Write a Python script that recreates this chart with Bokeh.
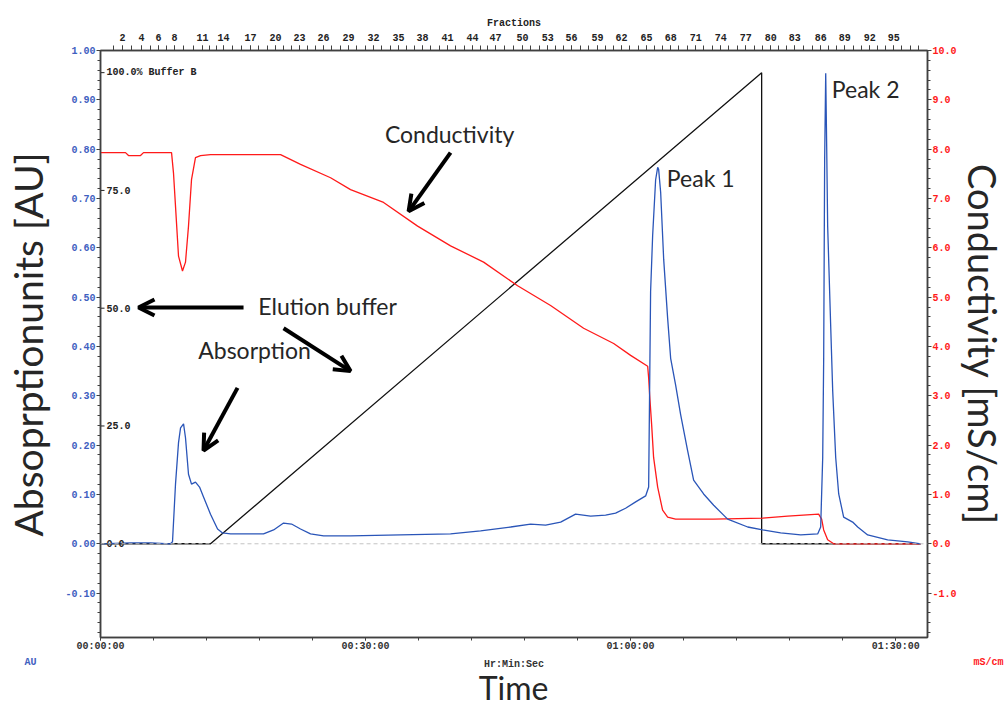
import numpy as np
from bokeh.plotting import figure
from bokeh.models import (LinearAxis, Range1d, FixedTicker, NumeralTickFormatter,
                          Label, Arrow, OpenHead, Span)
from bokeh.core.properties import value
from bokeh.embed import file_html
from bokeh.resources import INLINE

# ---- chromatogram traces (time in minutes) ----
abs_time = [0.0, 3.40, 5.66, 7.92, 8.15, 8.49, 8.83, 9.06, 9.40, 9.62, 9.96, 10.30,
            10.75, 11.21, 11.66, 12.45, 13.25, 13.81, 14.72, 16.98, 18.45, 19.59,
            20.72, 21.62, 22.64, 23.77, 25.25, 28.30, 33.96, 39.62, 43.02, 46.42,
            48.68, 50.38, 52.08, 53.77, 55.47, 57.17, 58.30, 59.43, 60.57, 61.70,
            62.04, 62.26, 62.49, 62.83, 63.06, 63.17, 63.40, 63.74, 64.19, 64.53,
            65.09, 65.66, 66.45, 67.13, 68.26, 69.40, 70.98, 73.25, 74.94, 76.98,
            79.25, 81.17, 81.51, 81.74, 81.85, 81.96, 82.08, 82.19, 82.30, 82.64,
            82.87, 83.21, 83.55, 84.11, 85.13, 85.70, 86.83, 89.09, 91.36, 92.83]
abs_au = [0.000, 0.002, 0.002, 0.000, 0.004, 0.121, 0.205, 0.235, 0.243, 0.215, 0.141,
          0.121, 0.125, 0.115, 0.095, 0.060, 0.030, 0.022, 0.020, 0.020, 0.020, 0.028,
          0.042, 0.040, 0.030, 0.020, 0.016, 0.016, 0.018, 0.020, 0.026, 0.034,
          0.040, 0.038, 0.044, 0.060, 0.056, 0.058, 0.062, 0.072, 0.085, 0.097,
          0.115, 0.511, 0.624, 0.738, 0.763, 0.759, 0.712, 0.577, 0.457, 0.376,
          0.322, 0.262, 0.189, 0.129, 0.101, 0.078, 0.050, 0.034, 0.028, 0.022,
          0.018, 0.020, 0.034, 0.175, 0.376, 0.779, 0.954, 0.805, 0.644, 0.443,
          0.310, 0.175, 0.101, 0.054, 0.044, 0.034, 0.018, 0.008, 0.004, 0.000]

cond_time = [0.0, 2.83, 3.17, 4.53, 4.87, 8.04, 8.26, 8.49, 8.83, 9.28, 9.62, 9.96,
             10.30, 10.75, 11.32, 12.45, 20.38, 22.64, 26.04, 28.30, 32.04, 35.89,
             39.62, 43.36, 47.21, 50.94, 54.68, 58.08, 60.00, 61.93, 62.04, 62.15,
             62.38, 62.60, 63.06, 63.62, 64.19, 65.09, 69.40, 74.94, 77.77, 81.28,
             81.62, 81.85, 82.30, 82.98, 92.83]
cond_mscm = [7.93, 7.93, 7.87, 7.87, 7.93, 7.93, 7.52, 6.84, 5.83, 5.53, 5.71, 6.44,
             7.38, 7.83, 7.87, 7.89, 7.89, 7.69, 7.42, 7.18, 6.92, 6.44,
             6.04, 5.71, 5.23, 4.83, 4.37, 4.06, 3.82, 3.60, 3.36, 3.02,
             2.41, 1.75, 1.15, 0.68, 0.54, 0.50, 0.50, 0.52, 0.56, 0.60,
             0.50, 0.28, 0.08, 0.00, 0.00]

grad_time = [0.0, 12.45, 74.83, 74.83, 92.83]
grad_pct_b = [0.0, 0.0, 100.0, 0.0, 0.0]

# ---- axis ticks ----
au_ticks = [-0.1, 0.0, 0.1, 0.2, 0.3, 0.4, 0.5, 0.6, 0.7, 0.8, 0.9, 1.0]
cond_ticks = [-1.0, 0.0, 1.0, 2.0, 3.0, 4.0, 5.0, 6.0, 7.0, 8.0, 9.0, 10.0]
time_ticks = [0, 30, 60, 90]
time_tick_labels = ["00:00:00", "00:30:00", "01:00:00", "01:30:00"]
frac_numbers = [2, 4, 6, 8, 11, 14, 17, 20, 23, 26, 29, 32, 35, 38, 41, 44, 47, 50,
                53, 56, 59, 62, 65, 68, 71, 74, 77, 80, 83, 86, 89, 92, 95]
frac_time = [2.49, 4.64, 6.57, 8.38, 11.55, 13.92, 16.98, 19.81, 22.53, 25.25, 28.08,
             30.91, 33.74, 36.45, 39.28, 42.11, 44.72, 47.77, 50.61, 53.32, 56.26,
             58.98, 61.81, 64.53, 67.36, 70.19, 73.02, 75.85, 78.57, 81.51, 84.23,
             87.06, 89.77]
buffer_marks = [0, 25, 50, 75, 100]
buffer_mark_labels = ["0.0", "25.0", "50.0", "75.0", "100.0% Buffer B"]

AU_BLUE = "#3f5fbf"
COND_RED = "#ff1a1a"
DARK = "#404040"
TEXT = "#262626"
MONO = "Liberation Mono"
SANS = "Lato"

p = figure(width=1008, height=711, x_range=Range1d(0, 93.6), y_range=Range1d(-0.19, 1.0),
           x_axis_location=None, y_axis_location=None,
           output_backend="svg", toolbar_location=None,
           min_border_left=100, min_border_right=81, min_border_top=50, min_border_bottom=69)
p.grid.visible = False
p.outline_line_color = DARK
p.outline_line_width = 1.5
p.background_fill_color = "white"
p.border_fill_color = "white"

p.extra_y_ranges = {"cond": Range1d(-1.9, 10.0), "buffer": Range1d(-19.9, 104.7)}


def style_axis(ax, color, font_size="10px"):
    ax.axis_line_color = DARK
    ax.axis_line_width = 1.5
    ax.major_tick_line_color = DARK
    ax.minor_tick_line_color = DARK
    ax.major_tick_in = 0
    ax.minor_tick_in = 0
    ax.major_label_text_font = MONO
    ax.major_label_text_font_style = "bold"
    ax.major_label_text_font_size = font_size
    ax.major_label_text_color = color


def caption(x, y, txt, side, **kw):
    """Text placed in data coordinates inside one of the outer panels."""
    opts = dict(text_align="center", text_baseline="middle", text_font=SANS,
                text_font_size="10px", text_color=TEXT)
    opts.update(kw)
    p.add_layout(Label(x=x, y=y, text=txt, **opts), side)


# left: absorbance
au_minor = [round(v, 2) for v in np.arange(-0.18, 1.001, 0.02)]
ax_left = LinearAxis(ticker=FixedTicker(ticks=au_ticks, minor_ticks=au_minor),
                     formatter=NumeralTickFormatter(format="0.00"))
style_axis(ax_left, AU_BLUE)
ax_left.major_tick_out = 4
ax_left.minor_tick_out = 3
ax_left.major_label_standoff = 1
p.add_layout(ax_left, "left")

# right: conductivity
cond_minor = [round(v, 1) for v in np.arange(-1.8, 10.01, 0.2)]
ax_right = LinearAxis(y_range_name="cond",
                      ticker=FixedTicker(ticks=cond_ticks, minor_ticks=cond_minor),
                      formatter=NumeralTickFormatter(format="0.0"))
style_axis(ax_right, COND_RED)
ax_right.major_tick_out = 4
ax_right.minor_tick_out = 3
ax_right.major_label_standoff = 1
p.add_layout(ax_right, "right")

# bottom: run time
time_minor = list(range(0, 94, 6))
ax_bottom = LinearAxis(ticker=FixedTicker(ticks=time_ticks, minor_ticks=time_minor),
                       major_label_overrides=dict(zip(time_ticks, time_tick_labels)))
style_axis(ax_bottom, "#333333")
ax_bottom.major_tick_out = 3
ax_bottom.minor_tick_out = 3
ax_bottom.major_label_standoff = 0
ax_bottom.axis_label = "Hr:Min:Sec"
ax_bottom.axis_label_text_font = MONO
ax_bottom.axis_label_text_font_style = "bold"
ax_bottom.axis_label_text_font_size = "10px"
ax_bottom.axis_label_text_color = "#333333"
ax_bottom.axis_label_standoff = 4
p.add_layout(ax_bottom, "below")

# top: collected fractions
frac_all = np.arange(1, 99)
frac_minor = list(np.interp(frac_all, frac_numbers, frac_time,
                            left=np.nan, right=np.nan))
step = 0.931
frac_minor = [1.45] + [v for v in frac_minor if not np.isnan(v)] + \
    [frac_time[-1] + step * k for k in (1, 2, 3)]
ax_top = LinearAxis(ticker=FixedTicker(ticks=frac_time, minor_ticks=frac_minor),
                    major_label_overrides={t: str(n) for t, n in zip(frac_time, frac_numbers)})
style_axis(ax_top, "#222222")
ax_top.major_tick_out = 5
ax_top.minor_tick_out = 5
ax_top.major_label_standoff = 5
ax_top.axis_label = "Fractions"
ax_top.axis_label_text_font = MONO
ax_top.axis_label_text_font_style = "bold"
ax_top.axis_label_text_font_size = "10px"
ax_top.axis_label_text_color = "#222222"
ax_top.axis_label_standoff = 2
p.add_layout(ax_top, "above")

# axis titles and unit captions
caption(-8.26, 0.404, "Absoprptionunits [AU]", "left", angle=np.pi / 2,
        text_font_size="39px")
caption(-8.6, -0.241, "AU", "left", text_align="left", text_font=MONO,
        text_font_style="bold", text_color=AU_BLUE)
caption(99.9, 0.404, "Conductivity [mS/cm]", "right", angle=-np.pi / 2,
        text_font_size="38px")
caption(102.2, -0.241, "mS/cm", "above", text_align="right", text_font=MONO,
        text_font_style="bold", text_color=COND_RED)
caption(46.75, -0.292, "Time", "below", text_font_size="32px")

# zero baseline
p.add_layout(Span(location=0, dimension="width", line_color="#c4c4c4",
                  line_dash="4 3", line_width=1))

# traces
p.line(grad_time, grad_pct_b, y_range_name="buffer", line_color="#111111", line_width=1.3)
p.line(cond_time, cond_mscm, y_range_name="cond", line_color=COND_RED, line_width=1.3)
p.line(abs_time, abs_au, line_color="#2a55b8", line_width=1.3)

# %B scale marks along the left edge
zeros = [0] * len(buffer_marks)
p.scatter(zeros, buffer_marks, y_range_name="buffer", marker="dash", size=8,
          line_color="#222222", line_width=1)
p.text(zeros, buffer_marks, text=buffer_mark_labels, y_range_name="buffer",
       x_offset=6, text_align="left", text_baseline="middle",
       text_font=value(MONO), text_font_style="bold", text_font_size="10px",
       text_color="#222222")


# callouts
def note(x, y, txt):
    p.add_layout(Label(x=x, y=y, text=txt, text_align="center", text_baseline="middle",
                       text_font=SANS, text_font_size="23px", text_color=TEXT))


def pointer(x0, y0, x1, y1):
    p.add_layout(Arrow(x_start=x0, y_start=y0, x_end=x1, y_end=y1, line_width=4,
                       line_color="black",
                       end=OpenHead(size=16, line_width=4, line_color="black")))


note(39.51, 0.831, "Conductivity")
note(25.70, 0.483, "Elution buffer")
note(17.43, 0.392, "Absorption")
note(67.93, 0.742, "Peak 1")
note(86.60, 0.922, "Peak 2")

pointer(39.62, 0.793, 34.87, 0.674)
pointer(16.19, 0.479, 4.30, 0.479)
pointer(20.72, 0.437, 28.30, 0.350)
pointer(15.51, 0.316, 11.66, 0.189)

open("out.html", "w").write(file_html(p, INLINE))
